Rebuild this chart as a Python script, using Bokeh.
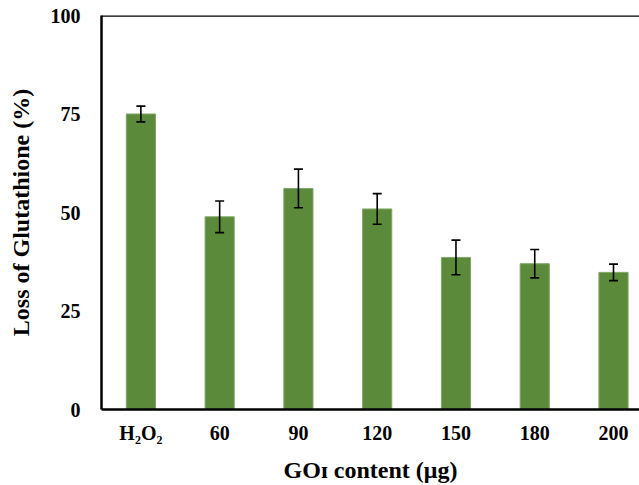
from bokeh.plotting import figure
from bokeh.models import ColumnDataSource, Whisker, TeeHead, FixedTicker, Range1d, Span
from bokeh.embed import file_html
from bokeh.resources import INLINE

categories = ["H\u2082O\u2082", "60", "90", "120", "150", "180", "200"]
loss = [75.0, 48.9, 56.1, 50.9, 38.6, 37.0, 34.8]
err = [2.0, 4.0, 4.9, 3.9, 4.4, 3.6, 2.1]

xs = list(range(len(categories)))
src = ColumnDataSource(dict(
    x=xs, top=loss,
    upper=[v + e for v, e in zip(loss, err)],
    lower=[v - e for v, e in zip(loss, err)],
))

FONT = "Liberation Serif"

p = figure(width=639, height=485, output_backend="svg", toolbar_location=None,
           x_range=Range1d(-0.5, 6.33), y_range=Range1d(0, 100),
           min_border_left=101, min_border_right=0, min_border_top=15,
           min_border_bottom=76)
p.outline_line_color = None
p.grid.visible = False
p.background_fill_color = "white"
p.border_fill_color = "white"

p.vbar(x="x", top="top", width=0.37, bottom=0, source=src,
       fill_color="#5B8B3A", line_color="#7FA566", line_width=1)

w = Whisker(base="x", upper="upper", lower="lower", source=src,
            line_color="black", line_width=1.6, level="overlay",
            upper_head=TeeHead(size=9, line_color="black", line_width=1.6),
            lower_head=TeeHead(size=9, line_color="black", line_width=1.6))
p.add_layout(w)

top_line = Span(location=100, dimension="width", line_color="black", line_width=2.5)
p.add_layout(top_line)

# y axis
ya = p.yaxis[0]
ya.ticker = FixedTicker(ticks=[0, 25, 50, 75, 100])
ya.axis_label = "Loss of Glutathione (%)"
ya.axis_label_text_font = FONT
ya.axis_label_text_font_style = "bold"
ya.axis_label_text_font_size = "24px"
ya.axis_label_text_color = "black"
ya.axis_label_standoff = 14
ya.major_label_text_font = FONT
ya.major_label_text_font_style = "bold"
ya.major_label_text_font_size = "20px"
ya.major_label_text_color = "black"
ya.major_label_standoff = 15
ya.major_tick_line_color = None
ya.minor_tick_line_color = None
ya.axis_line_width = 2.5
ya.axis_line_color = "black"

# x axis
xa = p.xaxis[0]
xa.ticker = FixedTicker(ticks=xs)
xa.major_label_overrides = {i: c for i, c in zip(xs, categories)}
xa.axis_label = "GO\u026a content (\u03bcg)"
xa.axis_label_text_font = FONT
xa.axis_label_text_font_style = "bold"
xa.axis_label_text_font_size = "24px"
xa.axis_label_text_color = "black"
xa.axis_label_standoff = 10
xa.major_label_text_font = FONT
xa.major_label_text_font_style = "bold"
xa.major_label_text_font_size = "20px"
xa.major_label_text_color = "black"
xa.major_label_standoff = 6
xa.major_tick_line_color = None
xa.minor_tick_line_color = None
xa.axis_line_width = 2.5
xa.axis_line_color = "black"

open("out.html", "w").write(file_html(p, INLINE))
